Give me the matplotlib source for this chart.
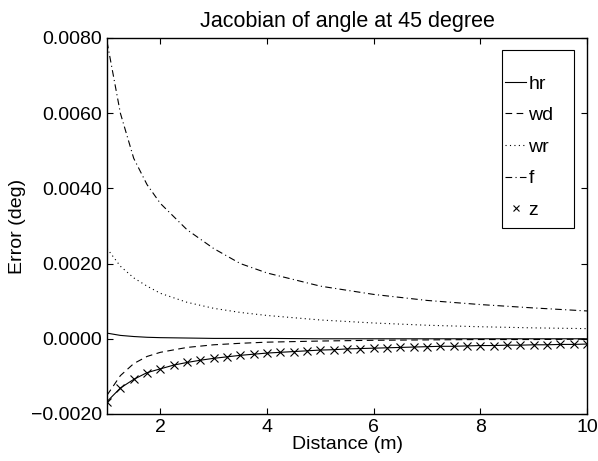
import numpy as np
import matplotlib.pyplot as plt
from matplotlib.patches import Rectangle
from matplotlib.ticker import FuncFormatter

plt.rcParams['font.family'] = ['Liberation Sans', 'DejaVu Sans']

# distance grid for the smooth curves
dist = [1, 1.25, 1.5, 1.75, 2, 2.5, 3, 3.5, 4, 5, 6, 7, 8, 9, 10]
hr = [0.00015, 0.00009, 0.00006, 0.00004, 0.00003, 0.00002, 0.00001, 0.00001,
      0.00001, 0.00000, 0.00000, 0.00000, 0.00000, 0.00000, 0.00000]
wd = [-0.0015, -0.00098, -0.00066, -0.00047, -0.00036, -0.00023, -0.00016, -0.00012,
      -0.00009, -0.00006, -0.00004, -0.00003, -0.00002, -0.00002, -0.00001]
wr = [0.0024, 0.00193, 0.00162, 0.0014, 0.00121, 0.00097, 0.00081, 0.0007,
      0.00062, 0.0005, 0.00042, 0.00036, 0.00032, 0.00029, 0.00027]
f = [0.0079, 0.0060, 0.0048, 0.0041, 0.0036, 0.0029, 0.0024, 0.0020,
     0.00175, 0.0014, 0.00118, 0.00102, 0.00091, 0.00082, 0.00074]

# z is sampled every 0.25 m
dist_z = [1 + 0.25 * i for i in range(37)]
z = [-0.00167, -0.00131, -0.00108, -0.00090, -0.00080, -0.00070, -0.00063, -0.00057,
     -0.00052, -0.00048, -0.00044, -0.00041, -0.00038, -0.00036, -0.00034, -0.00032,
     -0.00030, -0.00029, -0.00027, -0.00026, -0.00025, -0.00024, -0.00023, -0.00022,
     -0.00021, -0.00020, -0.00020, -0.00019, -0.00018, -0.00018, -0.00017, -0.00017,
     -0.00016, -0.00016, -0.00015, -0.00015, -0.00014]

fig = plt.figure(figsize=(5.98, 4.61), dpi=100)
ax = fig.add_axes([0.179, 0.102, 0.8026, 0.8156])

lw = 0.8
ax.plot(dist, hr, 'k-', lw=lw, label='hr')
ax.plot(dist, wd, 'k', ls=(0, (6, 4)), lw=lw, label='wd')
ax.plot(dist, wr, 'k', ls=(0, (1, 3)), lw=lw, label='wr')
ax.plot(dist, f, 'k', ls=(0, (6, 3, 1, 3)), lw=lw, label='f')
ax.plot(dist_z, z, 'k-', lw=lw)
ax.plot(dist_z, z, 'kx', ms=5.5, mew=0.8, label='z')

ax.set_xlim(1, 10)
ax.set_ylim(-0.002, 0.008)
ax.set_xticks([2, 4, 6, 8, 10])
ax.set_yticks([-0.002, 0, 0.002, 0.004, 0.006, 0.008])
ax.yaxis.set_major_formatter(FuncFormatter(lambda v, p: f"{v:.4f}".replace('-', '\u2212')))
ax.tick_params(direction='in', length=4, width=0.8, top=True, right=True, labelsize=14)
for s in ax.spines.values():
    s.set_linewidth(1.0)

ax.set_title('Jacobian of angle at 45 degree', fontsize=15.5, pad=8)
ax.set_xlabel('Distance (m)', fontsize=14, labelpad=0)
ax.set_ylabel('Error (deg)', fontsize=14, labelpad=4)

# legend entries without frame, box drawn separately (MATLAB-like padding)
leg = ax.legend(loc='upper left', bbox_to_anchor=(505 / 598, 1 - 75 / 461),
                bbox_transform=fig.transFigure, fontsize=14, frameon=False,
                handlelength=1.1, handletextpad=0.1, labelspacing=0.72,
                borderpad=0, borderaxespad=0, markerscale=0.7)
fig.patches.append(Rectangle((502 / 598, 1 - 228 / 461), 72 / 598, 178 / 461,
                             transform=fig.transFigure, fill=False,
                             edgecolor='k', lw=0.8, zorder=5))

fig.savefig('out.png', dpi=100)
